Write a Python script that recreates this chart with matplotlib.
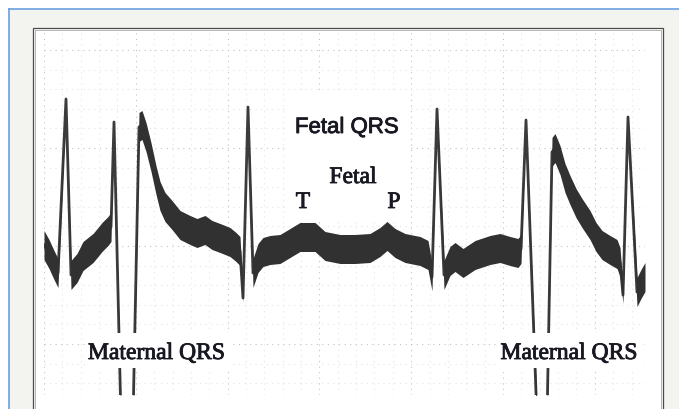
import numpy as np
import matplotlib
matplotlib.use("Agg")
import matplotlib.pyplot as plt
import matplotlib.patheffects as pe
from matplotlib.patches import Rectangle

# Scanned abdominal ECG strip: position along the strip and height of the
# trace centre above the bottom of the strip (both).
t = [44, 49, 54, 58, 66, 71, 77, 83, 88, 93, 98, 102, 108, 111, 114, 121,
     133, 139, 142, 146, 151, 156, 160, 165, 172, 180, 190, 197, 205, 212,
     220, 230, 236, 240, 243, 248, 253, 258, 263, 270, 280, 290, 300, 315,
     325, 340, 355, 370, 380, 387, 395, 405, 420, 428, 432, 437, 444, 450,
     455, 463, 475, 490, 500, 510, 518, 521, 526, 537, 547, 552, 555, 560,
     565, 570, 576, 582, 590, 596, 602, 610, 617, 620, 623, 628, 637, 641,
     645]
amp = [150, 141, 130, 122, 296, 120, 127, 139, 143, 147, 153, 158, 164, 168,
       273, -25, -25, 268, 270, 258, 238, 215, 199, 188, 180, 170, 165, 162,
       165, 160, 157, 153, 148, 144, 97, 288, 122, 137, 143, 145, 146, 152,
       158, 158, 149, 146, 146, 147, 153, 159, 152, 147, 144, 140, 118, 286,
       120, 134, 138, 132, 140, 145, 147, 144, 142, 146, 275, -25, -25, 243,
       247, 235, 217, 205, 192, 182, 170, 158, 150, 145, 141, 133, 100, 278,
       103, 111, 118]

fetal_labels = ["Fetal QRS", "Fetal", "T", "P"]
maternal_label = "Maternal QRS"

BAND = 14.5          # half height of the noisy trace band
TRACE = "#313131"
INK = "#181822"

t = np.array(t, dtype=float)
amp = np.array(amp, dtype=float)

# the trace is thick only where it moves slowly; fast strokes stay thin
slope = np.abs(np.diff(amp) / np.diff(t))
fwd = np.append(slope, slope[-1])
bwd = np.insert(slope, 0, slope[0])
s = np.minimum(fwd, bwd)
half = BAND / (1 + (s / 12.0) ** 4)

fig = plt.figure(figsize=(6.79, 4.09), dpi=100)
fig.patch.set_facecolor("white")

page = fig.add_axes([0, 0, 1, 1])
page.set_xlim(0, 679)
page.set_ylim(409, 0)
page.axis("off")
page.add_patch(Rectangle((9, 9), 680, 410, facecolor="#f3f3ef", edgecolor="none"))
page.plot([8.5, 679], [8.5, 8.5], color="#6b9fe0", lw=1.2)
page.plot([8.5, 8.5], [8.5, 409], color="#6b9fe0", lw=1.2)
page.add_patch(Rectangle((32.5, 27.5), 630.5, 400, facecolor="white",
                         edgecolor="#4a4a4a", lw=0.9))
page.add_patch(Rectangle((34.5, 29.5), 626, 400, facecolor="none",
                         edgecolor="#b4b4b4", lw=0.7))

ax = fig.add_axes([44 / 679, 14 / 409, 601 / 679, 365 / 409])
ax.set_xlim(44, 645)
ax.set_ylim(0, 365)
ax.axis("off")

# paper grid, faint dots
for i, x in enumerate(np.arange(44, 646, 18.36)):
    major = i % 5 == 0
    ax.axvline(x, color="#c2c2c2" if major else "#e4e4e4", lw=0.8,
               ls=(0, (1, 4)), zorder=1)
for i, y in enumerate(np.arange(345, 5, -19.6)):
    major = i % 5 == 0
    ax.axhline(y, color="#c2c2c2" if major else "#e4e4e4", lw=0.8,
               ls=(0, (1, 4)), zorder=1)

# white patch behind the fetal annotations
ax.add_patch(Rectangle((287, 173), 123, 129, facecolor="white",
                       edgecolor="none", zorder=2))

ax.plot(t, amp, color="#3c3c3c", lw=2.0, solid_joinstyle="round", zorder=3)
ax.fill_between(t, amp - half, amp + half, color=TRACE, lw=0, zorder=4)

# scanned lettering is a little heavier than the plain fonts
heavy = [pe.withStroke(linewidth=0.6, foreground=INK)]

ax.text(347, 262, fetal_labels[0], ha="center", va="baseline", fontsize=16,
        family="Liberation Sans", color=INK, zorder=6, path_effects=heavy)
ax.text(353, 212, fetal_labels[1], ha="center", va="baseline", fontsize=17,
        family="Liberation Serif", color=INK, zorder=6, path_effects=heavy)
ax.text(303, 187, fetal_labels[2], ha="center", va="baseline", fontsize=17,
        family="Liberation Serif", color=INK, zorder=6, path_effects=heavy)
ax.text(394, 187, fetal_labels[3], ha="center", va="baseline", fontsize=17,
        family="Liberation Serif", color=INK, zorder=6, path_effects=heavy)

for x0, cx in ((85, 156.5), (497, 569)):
    ax.add_patch(Rectangle((x0, 27), 146, 35, facecolor="white",
                           edgecolor="none", zorder=5))
    ax.text(cx, 36, maternal_label, ha="center", va="baseline", fontsize=17,
            family="Liberation Serif", color=INK, zorder=6, path_effects=heavy)

fig.savefig("out.png", dpi=100, facecolor=fig.get_facecolor())
